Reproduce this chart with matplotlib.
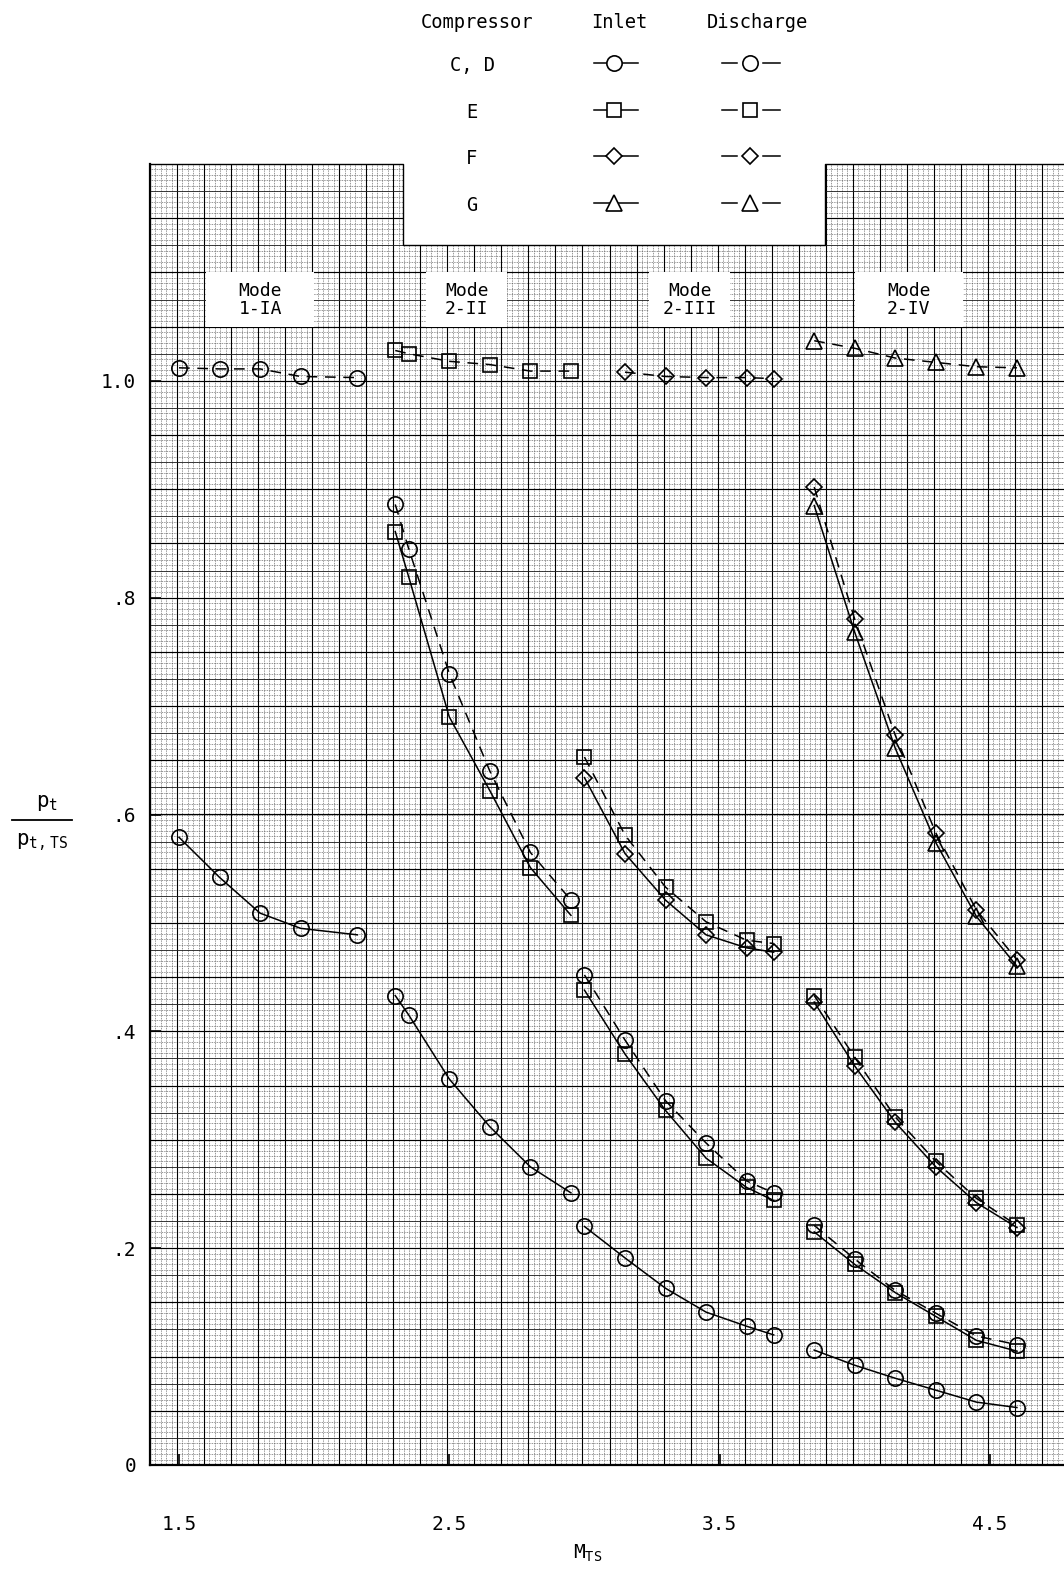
import numpy as np
import matplotlib.pyplot as plt
from matplotlib.patches import Rectangle

plt.rcParams['font.family'] = ['DejaVu Sans Mono', 'DejaVu Sans']
plt.rcParams['mathtext.fontset'] = 'custom'
plt.rcParams['mathtext.rm'] = 'DejaVu Sans Mono'

# ---- data ----
# Mode 1-IA
m1_x = [1.50, 1.65, 1.80, 1.95, 2.16]
m1_cd_dis = [1.012, 1.011, 1.011, 1.004, 1.003]
m1_cd_in = [0.579, 0.542, 0.509, 0.495, 0.489]

# Mode 2-II
m2_x = [2.30, 2.35, 2.50, 2.65, 2.80, 2.95]
m2_e_dis = [1.028, 1.025, 1.018, 1.015, 1.009, 1.009]
m2_cd_dis = [0.886, 0.845, 0.730, 0.640, 0.565, 0.521]
m2_e_in = [0.861, 0.819, 0.690, 0.622, 0.551, 0.507]
m2_cd_in = [0.433, 0.415, 0.356, 0.312, 0.275, 0.251]

# Mode 2-III
m3_x = [3.00, 3.15, 3.30, 3.45, 3.60, 3.70]
m3_fx = [3.15, 3.30, 3.45, 3.60, 3.70]
m3_f_dis = [1.008, 1.004, 1.003, 1.003, 1.002]
m3_e_dis = [0.653, 0.581, 0.533, 0.501, 0.484, 0.481]
m3_f_in = [0.634, 0.564, 0.521, 0.489, 0.477, 0.473]
m3_cd_dis = [0.452, 0.392, 0.336, 0.297, 0.262, 0.251]
m3_e_in = [0.438, 0.379, 0.327, 0.283, 0.256, 0.244]
m3_cd_in = [0.220, 0.191, 0.163, 0.141, 0.128, 0.120]

# Mode 2-IV
m4_x = [3.85, 4.00, 4.15, 4.30, 4.45, 4.60]
m4_g_dis = [1.037, 1.030, 1.021, 1.017, 1.013, 1.012]
m4_f_dis = [0.902, 0.780, 0.673, 0.583, 0.512, 0.466]
m4_g_in = [0.885, 0.768, 0.661, 0.574, 0.506, 0.460]
m4_e_dis = [0.433, 0.376, 0.321, 0.280, 0.246, 0.221]
m4_f_in = [0.427, 0.368, 0.316, 0.275, 0.242, 0.219]
m4_cd_dis = [0.221, 0.190, 0.161, 0.140, 0.119, 0.111]
m4_e_in = [0.215, 0.185, 0.159, 0.137, 0.115, 0.105]
m4_cd_in = [0.106, 0.092, 0.080, 0.069, 0.058, 0.053]

x_ticks = [1.5, 2.5, 3.5, 4.5]
y_ticks = [0, 0.2, 0.4, 0.6, 0.8, 1.0]
y_ticklabels = ["0", ".2", ".4", ".6", ".8", "1.0"]

compressors = ["C, D", "E", "F", "G"]
modes = ["1-IA", "2-II", "2-III", "2-IV"]
mode_xc = [1.80, 2.565, 3.39, 4.20]
mode_w = [0.4, 0.3, 0.3, 0.4]

MK = {"cd": ("o", 11), "e": ("s", 10), "f": ("D", 8.5), "g": ("^", 11)}

# ---- figure ----
W, H = 1064, 1570
fig = plt.figure(figsize=(W / 100, H / 100), dpi=100)
ax = fig.add_axes([150 / W, 105 / H, (W - 150) / W, 1301 / H])

xl = 1.5 - 29 / 270.3
xr = 1.5 + (W - 179) / 270.3
ax.set_xlim(xl, xr)
ax.set_ylim(0, 1.2)

# graph paper
xs_minor = np.arange(xl, xr, 0.02)
ys_minor = np.arange(0, 1.2, 0.005)
ax.vlines(xs_minor, 0, 1.2, colors="#555555", lw=0.5, linestyles=(0, (1.2, 1.2)), zorder=0.3)
ax.hlines(ys_minor, xl, xr, colors="#555555", lw=0.5, linestyles=(0, (1.2, 1.2)), zorder=0.3)
ax.vlines(np.arange(xl, xr, 0.1), 0, 1.2, colors="black", lw=0.8, zorder=0.5)
ax.hlines(np.arange(0, 1.2, 0.025), xl, xr, colors="#222222", lw=0.6, zorder=0.5)
ax.hlines(np.arange(0, 1.2, 0.05), xl, xr, colors="black", lw=0.85, zorder=0.5)

# cut-out for the legend
cx0, cx1, cy0 = 1.5 + (403 - 179) / 270.3, 1.5 + (825 - 179) / 270.3, 1.1255
ax.add_patch(Rectangle((cx0, cy0), cx1 - cx0, 0.1, facecolor="white",
                       edgecolor="none", zorder=1, clip_on=False))
ax.plot([xl, cx0, cx0, cx1, cx1, xr], [1.2, 1.2, cy0, cy0, 1.2, 1.2],
        color="black", lw=1.0, zorder=1.1, clip_on=False)

for sp in ["top", "right"]:
    ax.spines[sp].set_visible(False)
for sp in ["left", "bottom"]:
    ax.spines[sp].set_linewidth(1.6)

# mode boxes
for name, xc, w in zip(modes, mode_xc, mode_w):
    ax.add_patch(Rectangle((xc - w / 2, 1.05), w, 0.05, facecolor="white",
                           edgecolor="none", zorder=1))
    ax.text(xc, 1.075, "Mode\n" + name, ha="center", va="center",
            fontsize=13, linespacing=1.0, zorder=1.2)


def curve(x, y, key, dashed):
    m, s = MK[key]
    ax.plot(x, y, color="black", lw=1.1, ls=(0, (7, 5)) if dashed else "-",
            marker=m, ms=s, mfc="none", mec="black", mew=1.2, zorder=3)


curve(m1_x, m1_cd_dis, "cd", True)
curve(m1_x, m1_cd_in, "cd", False)

curve(m2_x, m2_e_dis, "e", True)
curve(m2_x, m2_cd_dis, "cd", True)
curve(m2_x, m2_e_in, "e", False)
curve(m2_x, m2_cd_in, "cd", False)

curve(m3_fx, m3_f_dis, "f", True)
curve(m3_x, m3_e_dis, "e", True)
curve(m3_x, m3_f_in, "f", False)
curve(m3_x, m3_cd_dis, "cd", True)
curve(m3_x, m3_e_in, "e", False)
curve(m3_x, m3_cd_in, "cd", False)

curve(m4_x, m4_g_dis, "g", True)
curve(m4_x, m4_f_dis, "f", True)
curve(m4_x, m4_g_in, "g", False)
curve(m4_x, m4_e_dis, "e", True)
curve(m4_x, m4_f_in, "f", False)
curve(m4_x, m4_cd_dis, "cd", True)
curve(m4_x, m4_e_in, "e", False)
curve(m4_x, m4_cd_in, "cd", False)

ax.set_xticks(x_ticks)
ax.set_xticklabels([str(v) for v in x_ticks])
ax.set_yticks(y_ticks)
ax.set_yticklabels(y_ticklabels)
ax.tick_params(axis="x", direction="in", length=8, width=1.2, pad=36, labelsize=14)
ax.tick_params(axis="y", direction="in", length=8, width=1.2, pad=10, labelsize=14)

# ---- legend and axis titles in pixel positions ----
ov = fig.add_axes([0, 0, 1, 1])
ov.set_xlim(0, W)
ov.set_ylim(H, 0)
ov.axis("off")
ov.patch.set_alpha(0)

ov.text(477, 22, "Compressor", ha="center", va="center", fontsize=13.5)
ov.text(619, 22, "Inlet", ha="center", va="center", fontsize=13.5)
ov.text(757, 22, "Discharge", ha="center", va="center", fontsize=13.5)
for i, (lab, key) in enumerate(zip(compressors, ["cd", "e", "f", "g"])):
    yy = 66 + i * 46.5
    ov.text(472, yy, lab, ha="center", va="center", fontsize=13.5)
    m, s = MK[key]
    ov.plot([594, 638], [yy - 3, yy - 3], color="black", lw=1.1)
    ov.plot([614], [yy - 3], marker=m, ms=s, mfc="white", mec="black", mew=1.2)
    ov.plot([722, 737], [yy - 3, yy - 3], color="black", lw=1.1)
    ov.plot([763, 780], [yy - 3, yy - 3], color="black", lw=1.1)
    ov.plot([750], [yy - 3], marker=m, ms=s, mfc="white", mec="black", mew=1.2)

ov.text(47, 803, r"$\mathregular{p_t}$", ha="center", va="center", fontsize=15)
ov.plot([12, 72], [820, 820], color="black", lw=1.3)
ov.text(42, 842, r"$\mathregular{p_{t,TS}}$", ha="center", va="center", fontsize=15)
ov.text(588, 1553, r"$\mathregular{M_{TS}}$", ha="center", va="center", fontsize=14)

fig.savefig("out.png", dpi=100, facecolor="white")
